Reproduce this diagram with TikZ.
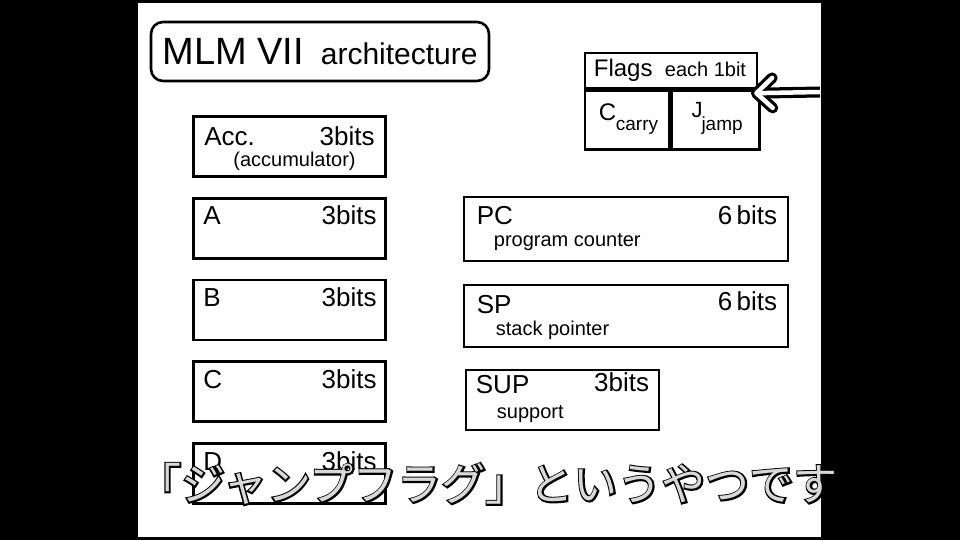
\documentclass[tikz,border=0pt]{standalone}
\usepackage{fontspec}
\setmainfont{Liberation Sans}
\newfontfamily\jpfont{Noto Sans CJK JP}
\newfontfamily\jpoutline[FakeBold=7]{Noto Sans CJK JP}
\usetikzlibrary{positioning, arrows.meta}
\tikzset{
x=1pt, y=1pt, % one unit is one pixel of the slide
node distance=81.75pt, % distance between two register rows
reg/.style={draw, line width=2.6pt, minimum width=192pt, minimum height=60pt, inner sep=0pt}, % box of one register
flagcell/.style={draw, line width=2.6pt, inner sep=0pt}, % box of the flag register
regname/.style={anchor=base west, inner sep=0pt, font=\fontsize{26}{30}\selectfont}, % name of a register
regbits/.style={anchor=base east, inner sep=0pt, font=\fontsize{26}{30}\selectfont}, % size of a register
regnote/.style={anchor=base west, inner sep=0pt, font=\fontsize{20}{24}\selectfont}, % long name of a register
}

\begin{document}
\begin{tikzpicture}
            \fill[black] (0,0) rectangle (960,540);
            \fill[white] (138,3) rectangle (821,537);
            \useasboundingbox (0,0) rectangle (960,540);

            % title
            \node[draw, line width=2.6pt, rounded corners=12pt, minimum width=338pt, minimum height=59pt, inner sep=0pt, font=\fontsize{38}{44}\selectfont] (title) at (320,488.5) {MLM VII\hspace{17pt}{\fontsize{30}{36}\selectfont architecture}};

            % registers on the left
            \node[reg] (acc) at (289.5,393.5) {};
            \node[reg, below of=acc] (a) {};
            \node[reg, below of=a] (b) {};
            \node[reg, below of=b] (c) {};
            \node[reg, below of=c] (d) {};
            \node[regname] (acc name) at ([shift={(12,-30)}]acc.north west) {Acc.};
            \node[regbits] (acc bits) at ([shift={(-12,-30)}]acc.north east) {3bits};
            \node[regnote, anchor=base] (acc note) at ([shift={(5,-51)}]acc.north) {(accumulator)};
            \node[regname] (a name) at ([shift={(11,-28)}]a.north west) {A};
            \node[regbits] (a bits) at ([shift={(-10,-28)}]a.north east) {3bits};
            \node[regname] (b name) at ([shift={(11,-28)}]b.north west) {B};
            \node[regbits] (b bits) at ([shift={(-10,-28)}]b.north east) {3bits};
            \node[regname] (c name) at ([shift={(11,-28)}]c.north west) {C};
            \node[regbits] (c bits) at ([shift={(-10,-28)}]c.north east) {3bits};
            \node[regname] (d name) at ([shift={(11,-28)}]d.north west) {D};
            \node[regbits] (d bits) at ([shift={(-10,-28)}]d.north east) {3bits};

            % registers on the right
            \node[reg, minimum width=324pt, minimum height=64pt] (pc) at (626,311) {};
            \node[reg, minimum width=324pt, minimum height=62pt] (sp) at (626,224) {};
            \node[reg, minimum width=193pt] (sup) at (562.5,140) {};
            \node[regname] (pc name) at ([shift={(14,-29)}]pc.north west) {PC};
            \node[regbits] (pc bits) at ([shift={(-12,-29)}]pc.north east) {6\,bits};
            \node[regnote] (pc note) at ([shift={(31,-51)}]pc.north west) {program counter};
            \node[regname] (sp name) at ([shift={(14,-30)}]sp.north west) {SP};
            \node[regbits] (sp bits) at ([shift={(-12,-27)}]sp.north east) {6\,bits};
            \node[regnote] (sp note) at ([shift={(33,-52)}]sp.north west) {stack pointer};
            \node[regname] (sup name) at ([shift={(11,-25)}]sup.north west) {SUP};
            \node[regbits] (sup bits) at ([shift={(-11,-23)}]sup.north east) {3bits};
            \node[regnote] (sup note) at ([shift={(32,-50)}]sup.north west) {support};

            % flags
            \node[flagcell, minimum width=172pt, minimum height=35pt] (flags) at (671,469.5) {};
            \node[flagcell, minimum width=84pt, minimum height=59pt, anchor=north west] (carry) at (flags.south west) {};
            \node[flagcell, minimum width=88pt, minimum height=59pt, anchor=north west] (jump) at (carry.north east) {};
            \node[regname, font=\fontsize{24}{28}\selectfont] (flags name) at ([shift={(10,-25)}]flags.north west) {Flags};
            \node[regname, font=\fontsize{20}{24}\selectfont] (flags note) at ([shift={(81,-25)}]flags.north west) {each 1bit};
            \node[regname, font=\fontsize{24}{28}\selectfont] (carry name) at ([shift={(15,-31)}]carry.north west) {C};
            \node[regname, font=\fontsize{19}{22}\selectfont] (carry note) at ([shift={(32,-41)}]carry.north west) {carry};
            \node[regname, font=\fontsize{22}{26}\selectfont] (jump name) at ([shift={(21,-28)}]jump.north west) {J};
            \node[regname, font=\fontsize{19}{22}\selectfont] (jump note) at ([shift={(31,-41)}]jump.north west) {jamp};

            % arrow to the flags
            \coordinate (arrow start) at (820,448);
            \coordinate (arrow tip) at ([shift={(-10,-4)}]jump.north east);
            \draw[line width=11pt, -{Straight Barb[round, length=16pt, width=30pt]}] (arrow start) -- (arrow tip);
            \draw[white, line width=4.5pt, shorten >=3.25pt, -{Straight Barb[round, length=16pt, width=30pt]}] (arrow start) -- (arrow tip);

            % caption
            \node[font=\jpoutline\fontsize{44}{50}\selectfont, text=black] (caption outline) at (487.5,56) {「ジャンプフラグ」というやつです};
            \node[font=\jpfont\fontsize{44}{50}\selectfont, text=gray!30] (caption) at (caption outline) {「ジャンプフラグ」というやつです};
        \end{tikzpicture}
\end{document}
